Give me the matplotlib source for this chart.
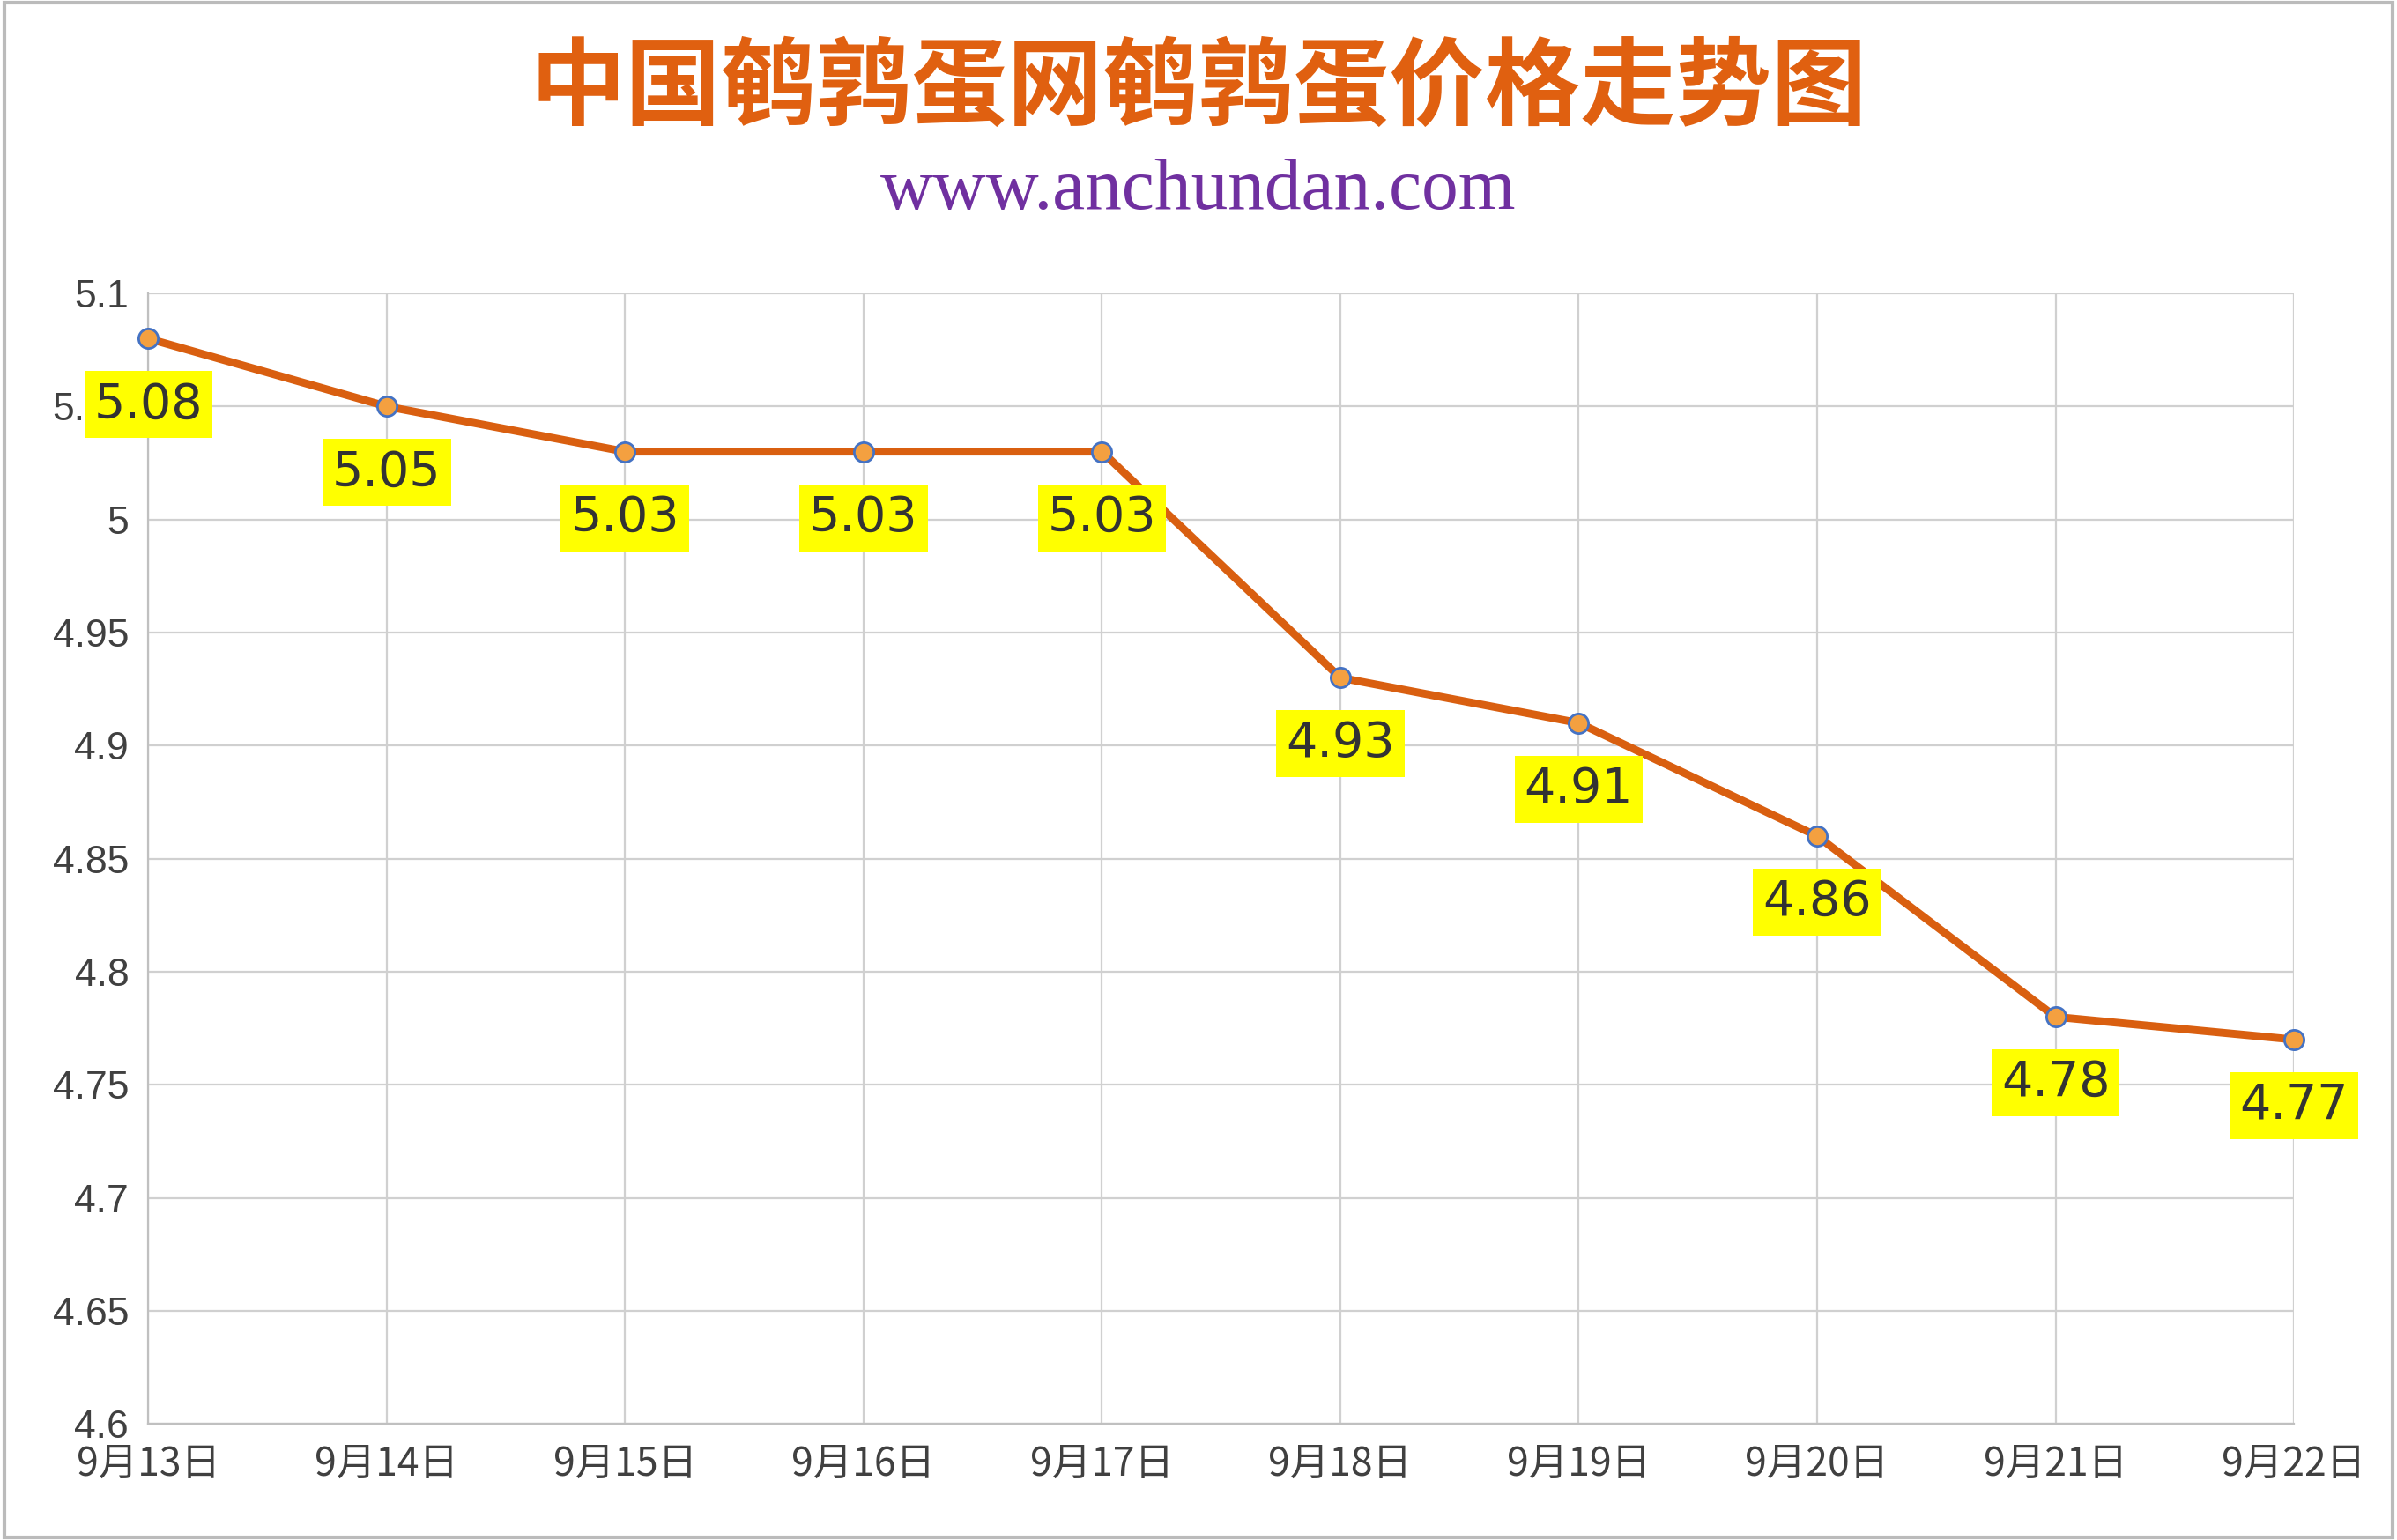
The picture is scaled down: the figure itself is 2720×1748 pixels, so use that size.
import matplotlib
matplotlib.use("Agg")
import matplotlib.pyplot as plt
from matplotlib.patches import Rectangle

dates = ["9月13日","9月14日","9月15日","9月16日","9月17日","9月18日","9月19日","9月20日","9月21日","9月22日"]
prices = [5.08,5.05,5.03,5.03,5.03,4.93,4.91,4.86,4.78,4.77]
yticks = [4.6,4.65,4.7,4.75,4.8,4.85,4.9,4.95,5,5.05,5.1]
ytick_labels = ["4.6","4.65","4.7","4.75","4.8","4.85","4.9","4.95","5","5.05","5.1"]

plt.rcParams['font.family'] = ['Noto Sans CJK SC', 'DejaVu Sans']
fig = plt.figure(figsize=(13.6, 8.74), dpi=200)
fig.patches.append(Rectangle((0.002,0.002),0.996,0.996,transform=fig.transFigure,fill=False,edgecolor='#BBBBBB',lw=1.5))
ax = fig.add_axes([0.0619, 0.0754, 0.8951, 0.7341])
x = list(range(len(dates)))
ax.plot(x, prices, color='#D95F10', lw=3.2, marker='o', ms=8, mfc='#F4A040', mec='#4472C4', mew=1, zorder=3, clip_on=False)
for xi, p in zip(x, prices):
    ax.annotate(f"{p:.2f}", (xi, p), xytext=(0, -27), textcoords='offset points', ha='center', va='center',
                fontsize=20, color='#333333', family=['DejaVu Sans'],
                bbox=dict(boxstyle='square,pad=0.2', fc='#FFFF00', ec='none'), zorder=4)
ax.set_xlim(0, len(dates)-1)
ax.set_ylim(4.6, 5.1)
ax.set_yticks(yticks)
ax.set_yticklabels(ytick_labels, family=['Liberation Sans'])
ax.set_xticks(x)
ax.set_xticklabels(dates)
ax.tick_params(labelsize=16, colors='#404040', length=0, pad=8)
ax.grid(True, color='#D0D0D0', lw=0.8)
for s in ['top','right']:
    ax.spines[s].set_visible(False)
for s in ['left','bottom']:
    ax.spines[s].set_color('#C0C0C0')
ax.set_axisbelow(True)
fig.text(0.5, 0.942, "中国鹌鹑蛋网鹌鹑蛋价格走势图", ha='center', va='center', fontsize=39, fontweight='bold', color='#E06010')
fig.text(0.5, 0.876, "www.anchundan.com", ha='center', va='center', fontsize=30, color='#7030A0', family=['Liberation Serif'])
fig.savefig("out.png", dpi=200)
